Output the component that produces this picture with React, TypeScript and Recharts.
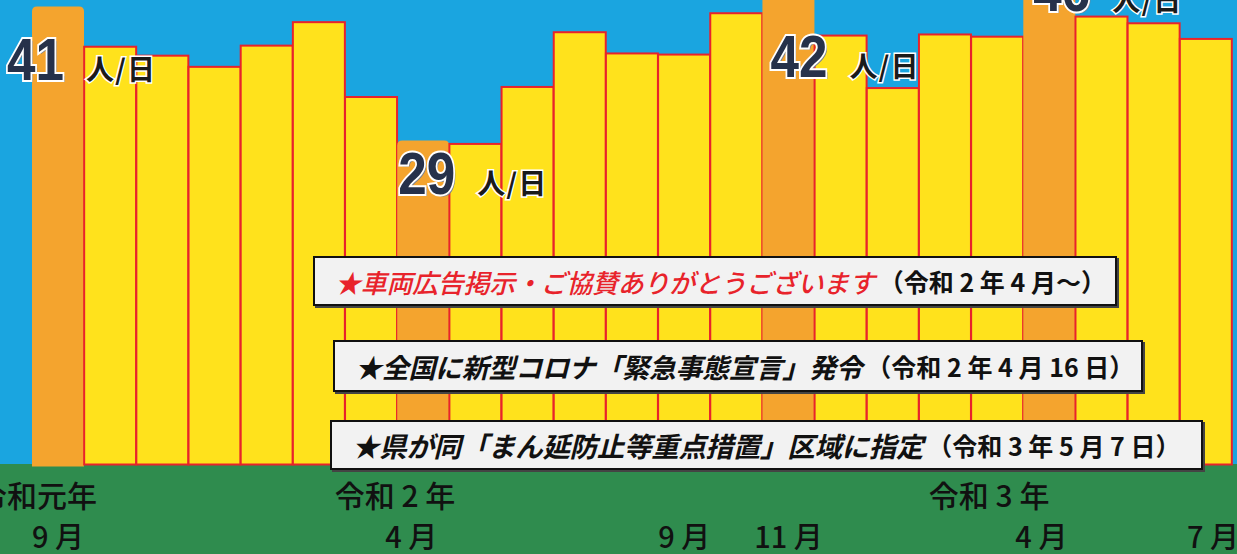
import React from "react";
import { BarChart, Bar, XAxis, YAxis, LabelList } from "recharts";

// 月別の1日あたり利用者数（人/日）
const categories = [
  "R1.9", "R1.10", "R1.11", "R1.12",
  "R2.1", "R2.2", "R2.3", "R2.4", "R2.5", "R2.6", "R2.7", "R2.8", "R2.9", "R2.10", "R2.11", "R2.12",
  "R3.1", "R3.2", "R3.3", "R3.4", "R3.5", "R3.6", "R3.7",
];
const riders = [
  41, 37.4, 36.6, 35.6, 37.5, 39.6, 32.9, 29, 28.7, 33.8, 38.7, 36.8,
  36.7, 40.4, 42, 38.4, 33.7, 38.5, 38.3, 46, 40.1, 39.5, 38.1,
];
const highlighted = [0, 7, 14, 19];

const monthTickIdx = [0, 7, 12, 14, 19, 22];
const monthTickLabels = ["9 月", "4 月", "9 月", "11 月", "4 月", "7 月"];
const yearTickIdx = [0, 7, 19];
const yearTickLabels = ["令和元年", "令和 2 年", "令和 3 年"];

const noticeMain = [
  "★車両広告掲示・ご協賛ありがとうございます",
  "★全国に新型コロナ「緊急事態宣言」発令",
  "★県が同「まん延防止等重点措置」区域に指定",
];
const noticeDate = ["（令和 2 年 4 月～）", "（令和 2 年 4 月 16 日）", "（令和 3 年 5 月 7 日）"];

const BLUE = "#1aa5e0";
const GREEN = "#2f8c4e";
const YELLOW = "#ffe21c";
const ORANGE = "#f4a42e";
const RED = "#e8232b";

const W = 1237;
const H = 554;
const PLOT_BOTTOM_PAGE = 464;
const AXIS_H = 90;
const Y_MAX = 50;
const PX_PER_UNIT = 11.17;
const PLOT_H = Y_MAX * PX_PER_UNIT;
const CH = PLOT_H + AXIS_H;
const CHART_TOP = PLOT_BOTTOM_PAGE - PLOT_H;

const data = categories.map((c, i) => ({ key: c, v: riders[i], hi: highlighted.includes(i) }));

const BarShape = (props: any) => {
  const { x, y, width, height, payload } = props;
  if (payload.hi) {
    const r = 5;
    const d = `M${x},${y + height} L${x},${y + r} Q${x},${y} ${x + r},${y} L${x + width - r},${y} Q${x + width},${y} ${x + width},${y + r} L${x + width},${y + height + 2} L${x},${y + height + 2} Z`;
    return <path d={d} fill={ORANGE} />;
  }
  return <rect x={x} y={y} width={width} height={height} fill={YELLOW} stroke={RED} strokeWidth={2} />;
};

// number label placement relative to bar (dx from bar left, baseline dy from bar top)
const labelPos: Record<number, [number, number]> = { 0: [-25, 73], 7: [1, 53], 14: [8, 82], 19: [10, 60] };

const ValueLabel = (props: any) => {
  const { x, y, value, index } = props;
  if (!highlighted.includes(index)) return null;
  const [dx, dy] = labelPos[index] ?? [0, 60];
  const nx = x + dx;
  const by = y + dy;
  const numFont = "'Liberation Sans', Arial, sans-serif";
  return (
    <g>
      <text x={nx + 2} y={by + 2} fontFamily={numFont} fontWeight={700} fontSize={60}
        textLength={57} lengthAdjust="spacingAndGlyphs" fill="#7a8290">{value}</text>
      <text x={nx} y={by} fontFamily={numFont} fontWeight={700} fontSize={60}
        textLength={57} lengthAdjust="spacingAndGlyphs"
        fill="#26314a" stroke="#ffffff" strokeWidth={4} paintOrder="stroke">{value}</text>
      <text x={nx + 79} y={by} fontFamily="'Noto Sans CJK JP', sans-serif" fontWeight={700} fontSize={28}
        textLength={69} lengthAdjust="spacing"
        fill="#1a1a1a" stroke="#ffffff" strokeWidth={3} paintOrder="stroke">人/日</text>
    </g>
  );
};

const yearDx: Record<number, number> = { 0: 39, 7: 32, 19: 0 };
const monthDx: Record<number, number> = { 7: -12, 19: -8, 22: 7 };

const AxisTick = (props: any) => {
  const { x } = props;
  const index = props.index ?? props.payload?.index;
  const plotBottom = CH - AXIS_H;
  const yi = yearTickIdx.indexOf(index);
  const mi = monthTickIdx.indexOf(index);
  return (
    <g>
      {yi >= 0 && (
        <text x={x + (yearDx[index] ?? 0)} y={plotBottom + 42} textAnchor="end"
          fontFamily="'Noto Sans CJK JP', sans-serif" fontWeight={500} fontSize={30} fill="#111">
          {yearTickLabels[yi]}
        </text>
      )}
      {mi >= 0 && (
        <text x={x + (monthDx[index] ?? 0)} y={plotBottom + 83} textAnchor="middle"
          fontFamily="'Noto Sans CJK JP', sans-serif" fontWeight={500} fontSize={29} fill="#111">
          {monthTickLabels[mi]}
        </text>
      )}
    </g>
  );
};

const boxes = [
  { left: 313, top: 256, width: 804, height: 50, color: RED, size: 26, weight: 500 },
  { left: 333, top: 340, width: 810, height: 52, color: "#111", size: 27, weight: 700 },
  { left: 330, top: 420, width: 873, height: 50, color: "#111", size: 27.5, weight: 700 },
];

export default function App() {
  return (
    <div style={{ position: "absolute", left: 0, top: 0, width: W, height: H, overflow: "hidden", background: BLUE }}>
      <div style={{ position: "absolute", left: 0, top: PLOT_BOTTOM_PAGE, width: W, height: H - PLOT_BOTTOM_PAGE, background: GREEN }} />
      <div style={{ position: "absolute", left: 0, top: CHART_TOP }}>
        <BarChart width={W} height={CH} data={data} margin={{ top: 0, right: 5, left: 32, bottom: 0 }}
          barCategoryGap={0} barGap={0}>
          <XAxis dataKey="key" height={AXIS_H} interval={0} axisLine={false} tickLine={false} tick={AxisTick} />
          <YAxis hide domain={[0, Y_MAX]} />
          <Bar dataKey="v" isAnimationActive={false} shape={BarShape}>
            <LabelList dataKey="v" content={ValueLabel} />
          </Bar>
        </BarChart>
      </div>
      {boxes.map((b, i) => (
        <div key={i} style={{
          position: "absolute", left: b.left, top: b.top, width: b.width, height: b.height,
          boxSizing: "border-box", background: "#f2f2f2", border: "2px solid #111",
          boxShadow: "2px 2px 0 #444", display: "flex", alignItems: "center", paddingLeft: 20,
          fontFamily: "'Noto Sans CJK JP', sans-serif", whiteSpace: "nowrap",
        }}>
          <span style={{ color: b.color, fontStyle: "italic", fontWeight: b.weight, fontSize: b.size, letterSpacing: -0.3 }}>
            {noticeMain[i]}
          </span>
          <span style={{ color: "#111", fontWeight: 700, fontSize: 25, marginLeft: 4 }}>{noticeDate[i]}</span>
        </div>
      ))}
    </div>
  );
}
